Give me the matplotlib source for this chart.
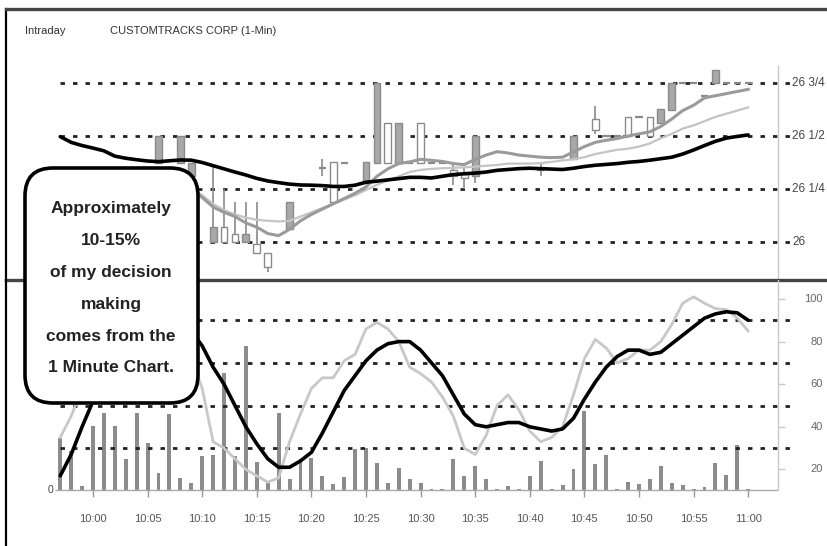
import numpy as np
import matplotlib
matplotlib.use('Agg')
import matplotlib.pyplot as plt
from matplotlib.patches import FancyBboxPatch

plt.rcParams['font.family'] = ['Liberation Sans', 'DejaVu Sans']

# ---- data (x = minutes after 10:00) ----
minutes = np.arange(-3, 61)

volume = [52, 39, 4, 64, 77, 64, 31, 77, 47, 17, 76, 12, 7, 34, 35, 117, 34, 144, 28, 7,
          77, 11, 31, 32, 14, 6, 13, 41, 42, 27, 7, 22, 11, 7, 1, 1, 31, 14, 24, 11,
          1, 4, 1, 14, 29, 1, 5, 21, 79, 26, 35, 1, 8, 6, 11, 24, 7, 5, 1, 3,
          27, 15, 45, 1]

stoch_d = [17, 27, 40, 52, 64, 74, 82, 87, 90, 91, 90, 88, 85, 78, 68, 60, 50, 40, 32, 25,
           21, 21, 24, 28, 37, 47, 57, 64, 71, 76, 79, 80, 80, 76, 70, 64, 55, 46, 41, 40,
           41, 42, 42, 40, 39, 38, 39, 44, 53, 61, 68, 73, 76, 76, 74, 75, 79, 83, 87, 91,
           93, 94, 93.5, 90]

stoch_k = [35, 45, 58, 70, 80, 88, 93, 95, 94, 92, 88, 82, 72, 58, 33, 30, 25, 20, 17, 14,
           16, 33, 46, 58, 63, 63, 71, 74, 86, 89, 86, 80, 68, 65, 61, 54, 45, 30, 27, 36,
           50, 55, 48, 38, 33, 35, 40, 55, 72, 81, 77, 70, 72, 76, 76, 80, 88, 98, 101, 98,
           95.5, 95, 91, 85]

ma_long = [26.497, 26.47, 26.455, 26.443, 26.43, 26.405, 26.395, 26.388, 26.382, 26.379,
           26.383, 26.387, 26.386, 26.375, 26.36, 26.345, 26.33, 26.316, 26.30, 26.288,
           26.28, 26.273, 26.269, 26.268, 26.266, 26.262, 26.262, 26.268, 26.282, 26.287,
           26.293, 26.299, 26.305, 26.305, 26.302, 26.31, 26.318, 26.322, 26.325, 26.33,
           26.338, 26.342, 26.346, 26.348, 26.346, 26.344, 26.342, 26.348, 26.356, 26.362,
           26.366, 26.37, 26.376, 26.38, 26.386, 26.393, 26.40, 26.415, 26.434, 26.455,
           26.475, 26.49, 26.498, 26.505]

ma_minutes = np.arange(9, 61)
ma_fast = [26.26, 26.21, 26.165, 26.14, 26.12, 26.09, 26.07, 26.04, 26.03, 26.06,
           26.10, 26.13, 26.155, 26.18, 26.205, 26.23, 26.26, 26.31, 26.345, 26.37,
           26.378, 26.39, 26.385, 26.38, 26.37, 26.365, 26.39, 26.41, 26.426, 26.42,
           26.41, 26.405, 26.40, 26.398, 26.40, 26.425, 26.45, 26.47, 26.48, 26.488,
           26.50, 26.51, 26.52, 26.545, 26.58, 26.62, 26.645, 26.68, 26.69, 26.70,
           26.71, 26.72]
ma_mid = [26.25, 26.22, 26.18, 26.15, 26.13, 26.115, 26.105, 26.10, 26.097, 26.10,
          26.12, 26.14, 26.16, 26.18, 26.20, 26.22, 26.245, 26.27, 26.29, 26.31,
          26.33, 26.34, 26.345, 26.348, 26.35, 26.352, 26.355, 26.36, 26.363, 26.37,
          26.37, 26.37, 26.372, 26.378, 26.385, 26.39, 26.40, 26.415, 26.425, 26.435,
          26.44, 26.45, 26.465, 26.49, 26.51, 26.535, 26.55, 26.57, 26.59, 26.605,
          26.62, 26.635]

candle_min = [6, 8, 9, 11, 12, 13, 14, 15, 16, 18, 21, 22, 23, 25, 26, 27, 28, 29, 30, 31,
              32, 33, 34, 35, 41, 44, 46, 47, 48, 49, 50, 51, 52, 53, 54, 55, 56, 57, 58, 59, 60]
candle_open = [26.5, 26.5, 26.375, 26.07, 26.0, 26.0, 26.04, 25.95, 25.88, 26.1875, 26.35, 26.1875, 26.375,
               26.375, 26.75, 26.375, 26.5625, 26.375, 26.375, 26.375, 26.375, 26.3125, 26.30, 26.5,
               26.34, 26.5, 26.53, 26.5, 26.5, 26.5, 26.5875, 26.5, 26.625, 26.75, 26.75, 26.75,
               26.6875, 26.8125, 26.75, 26.75, 26.75]
candle_high = [26.5, 26.5, 26.375, 26.36, 26.25, 26.19, 26.19, 26.19, 25.95, 26.1875, 26.39, 26.375, 26.375,
               26.375, 26.75, 26.5625, 26.5625, 26.375, 26.5625, 26.375, 26.375, 26.375, 26.35, 26.5,
               26.37, 26.5, 26.64, 26.5, 26.5, 26.5875, 26.5875, 26.5875, 26.625, 26.75, 26.75, 26.75,
               26.6875, 26.8125, 26.75, 26.75, 26.75]
candle_low = [26.375, 26.375, 26.3125, 26.0, 26.0, 26.0, 26.0, 25.95, 25.86, 26.0625, 26.31, 26.1875, 26.375,
              26.28, 26.375, 26.375, 26.375, 26.375, 26.375, 26.375, 26.375, 26.27, 26.25, 26.28,
              26.31, 26.39, 26.51, 26.5, 26.5, 26.5, 26.5875, 26.5, 26.5625, 26.625, 26.75, 26.75,
              26.6875, 26.75, 26.75, 26.75, 26.75]
candle_close = [26.375, 26.375, 26.3125, 26.0, 26.07, 26.04, 26.0, 25.99, 25.95, 26.0625, 26.35, 26.375, 26.375,
                26.28, 26.375, 26.5625, 26.375, 26.375, 26.5625, 26.375, 26.375, 26.34, 26.32, 26.3125,
                26.34, 26.39, 26.58, 26.5, 26.5, 26.5875, 26.5875, 26.5875, 26.5625, 26.625, 26.75, 26.75,
                26.6875, 26.75, 26.75, 26.75, 26.75]

price_levels = [26.0, 26.25, 26.5, 26.75]
price_labels = ['26', '26 1/4', '26 1/2', '26 3/4']
stoch_levels = [30, 50, 70, 90]
stoch_ticks = [20, 40, 60, 80, 100]
time_ticks = list(range(0, 61, 5))
time_labels = ['10:00', '10:05', '10:10', '10:15', '10:20', '10:25', '10:30',
               '10:35', '10:40', '10:45', '10:50', '10:55', '11:00']
callout_lines = ['Approximately', '10-15%', 'of my decision', 'making',
                 'comes from the', '1 Minute Chart.']

# ---- layout helpers (pixels) ----
W, H = 827, 546


def px_box(x0, y0, x1, y1):
    return [x0 / W, 1 - y1 / H, (x1 - x0) / W, (y1 - y0) / H]


def px2min(x):
    return (x - 93) / 10.92


fig = plt.figure(figsize=(W / 100, H / 100), dpi=100)
xlim = (px2min(6), px2min(827))
dash = (0, (1.6, 2.9))

# ---- price panel ----
ax1 = fig.add_axes(px_box(6, 9, 827, 280))
ax1.set_xlim(*xlim)
ax1.set_ylim(26 + (242 - 280) / 212, 26 + (242 - 9) / 212)
ax1.hlines(price_levels, px2min(60), px2min(792), color='#222222', lw=2.0,
           linestyles=[dash], zorder=1)
ax1.vlines(px2min(778), 25.8, 26 + (242 - 65) / 212, color='#c8c8c8', lw=1, zorder=1)
for lvl, lab in zip(price_levels, price_labels):
    ax1.text(px2min(792), lvl, lab, va='center', ha='left', fontsize=8.5, color='#444444')

for m, o, h, l, c in zip(candle_min, candle_open, candle_high, candle_low, candle_close):
    ax1.vlines(m, l, h, color='#8a8a8a', lw=1.2, zorder=2)
    if o == c:
        ax1.hlines(o, m - 0.33, m + 0.33, color='#8a8a8a', lw=1.6, zorder=3)
    else:
        ax1.bar(m, abs(c - o), bottom=min(o, c), width=0.62,
                color='white' if c > o else '#a8a8a8', edgecolor='#8a8a8a', lw=1, zorder=3)

ax1.plot(ma_minutes, ma_mid, color='#c4c4c4', lw=1.6, zorder=4)
ax1.plot(ma_minutes, ma_fast, color='#9a9a9a', lw=2.2, zorder=5)
ax1.plot(minutes, ma_long, color='black', lw=2.6, zorder=6, solid_capstyle='round')

ax1.set_xticks([])
ax1.set_yticks([])
ax1.spines['right'].set_visible(False)
ax1.spines['top'].set_color('#444444')
ax1.spines['top'].set_linewidth(2.4)
ax1.spines['bottom'].set_color('#444444')
ax1.spines['bottom'].set_linewidth(2.4)
ax1.spines['left'].set_color('black')
ax1.spines['left'].set_linewidth(1.6)
ax1.text(px2min(25), 26 + (242 - 31) / 212, 'Intraday', fontsize=8, color='#333333', va='center')
ax1.text(px2min(110), 26 + (242 - 31) / 212, 'CUSTOMTRACKS CORP (1-Min)', fontsize=8,
         color='#333333', va='center')

# ---- stochastic / volume panel ----
ax2 = fig.add_axes(px_box(6, 280, 827, 546))
ax3 = ax2.twinx()
ax2.set_zorder(ax3.get_zorder() + 1)
ax2.patch.set_visible(False)
ax2.set_xlim(*xlim)
ax2.set_ylim((512 - 546) / 2.13, (512 - 280) / 2.13)
ax3.set_ylim(-56, 210)

ax3.bar(minutes, volume, width=0.36, color='#8c8c8c', zorder=2)
ax3.hlines(0, px2min(55), px2min(778), color='#aaaaaa', lw=1)
ax3.vlines(time_ticks, -7, 0, color='#999999', lw=1)
ax3.text(px2min(53), 0, '0', ha='right', va='center', fontsize=7.5, color='#444444')

ax2.hlines(stoch_levels, px2min(60), px2min(792), color='#222222', lw=2.0,
           linestyles=[dash], zorder=1)
ax2.vlines(px2min(778), (512 - 490) / 2.13, 115, color='#c8c8c8', lw=1, zorder=1)
ax2.hlines(stoch_ticks, px2min(778), px2min(785), color='#c8c8c8', lw=1, zorder=1)
for v in stoch_ticks:
    ax2.text(px2min(823), v, str(v), ha='right', va='center', fontsize=8, color='#666666')

ax2.plot(minutes, stoch_k, color='#c8c8c8', lw=2.0, zorder=3)
ax2.plot(minutes, stoch_d, color='black', lw=2.6, zorder=4, solid_capstyle='round')

for t, lab in zip(time_ticks, time_labels):
    ax2.text(t, (512 - 519) / 2.13, lab, ha='center', va='center', fontsize=8, color='#555555')

for a in (ax2, ax3):
    a.set_xticks([])
    a.set_yticks([])
    for s in ('top', 'right', 'bottom'):
        a.spines[s].set_visible(False)
ax3.spines['left'].set_visible(False)
ax2.spines['left'].set_color('black')
ax2.spines['left'].set_linewidth(1.6)

# ---- callout (on top of both panels) ----
ov = fig.add_axes([0, 0, 1, 1])
ov.set_zorder(10)
ov.set_xlim(0, W)
ov.set_ylim(H, 0)
ov.axis('off')
ov.add_patch(FancyBboxPatch((25, 168), 173, 235, boxstyle='round,pad=0,rounding_size=28',
                            fc='white', ec='black', lw=2.6))
for i, line in enumerate(callout_lines):
    ov.text(111, 213.5 + i * 31.8, line, ha='center', va='baseline', fontsize=12.5,
            fontweight='bold', color='#222222')

fig.savefig('out.png', dpi=100)
